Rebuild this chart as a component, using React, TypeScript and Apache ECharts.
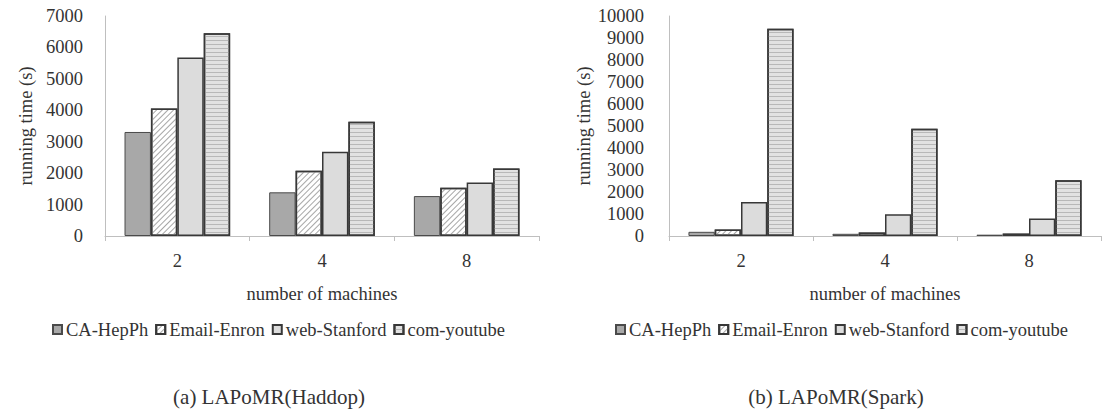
import React, { useEffect, useRef } from "react";
import * as echarts from "echarts";

const categories = ["2", "4", "8"];
const seriesNames = ["CA-HepPh", "Email-Enron", "web-Stanford", "com-youtube"];
const hadoopCA = [3310, 1390, 1270];
const hadoopEmail = [4060, 2075, 1535];
const hadoopWeb = [5680, 2680, 1705];
const hadoopYoutube = [6450, 3635, 2150];
const sparkCA = [190, 100, 60];
const sparkEmail = [290, 160, 110];
const sparkWeb = [1540, 990, 800];
const sparkYoutube = [9420, 4880, 2530];
const hadoopTicksMax = 7000;
const sparkTicksMax = 10000;
const captions = ["(a) LAPoMR(Haddop)", "(b) LAPoMR(Spark)"];
const xTitle = "number of machines";
const yTitle = "running time (s)";

const FONT = "Liberation Serif, Times New Roman, serif";
const TXT = "#333333";

function styleFor(i: number) {
  const border = "#383838";
  if (i === 0) return { color: "#a8a8a8", borderColor: "#4a4a4a", borderWidth: 1 };
  if (i === 1)
    return {
      color: "#ffffff",
      borderColor: border,
      borderWidth: 1.5,
      decal: {
        symbol: "rect",
        symbolSize: 1,
        color: "#a6a6a6",
        dashArrayX: [1, 0],
        dashArrayY: [1, 2.5],
        rotation: -Math.PI / 4,
      },
    };
  if (i === 2) return { color: "#dcdcdc", borderColor: border, borderWidth: 1.5 };
  return {
    color: "#e2e2e2",
    borderColor: border,
    borderWidth: 1.5,
    decal: {
      symbol: "rect",
      symbolSize: 1,
      color: "#b8b8b8",
      dashArrayX: [1, 0],
      dashArrayY: [1, 2.5],
      rotation: 0,
    },
  };
}

export default function App() {
  const ref = useRef<HTMLDivElement>(null);
  useEffect(() => {
    document.body.style.margin = "0";
    const chart = echarts.init(ref.current!, undefined, { renderer: "svg" });
    const hadoop = [hadoopCA, hadoopEmail, hadoopWeb, hadoopYoutube];
    const spark = [sparkCA, sparkEmail, sparkWeb, sparkYoutube];
    const axisLineStyle = { color: "#bfbfbf", width: 1 };
    const xAxisCommon = {
      type: "category",
      data: categories,
      name: xTitle,
      nameLocation: "middle",
      nameGap: 48,
      nameTextStyle: { fontFamily: FONT, fontSize: 18.5, color: TXT },
      axisLine: { show: true, lineStyle: axisLineStyle },
      axisTick: { show: true, length: 5, lineStyle: axisLineStyle },
      axisLabel: { fontFamily: FONT, fontSize: 18.5, color: TXT, margin: 15 },
      splitLine: { show: false },
    };
    const yAxisCommon = {
      type: "value",
      min: 0,
      interval: 1000,
      name: yTitle,
      nameLocation: "middle",
      nameTextStyle: { fontFamily: FONT, fontSize: 18.5, color: TXT },
      axisLine: { show: true, lineStyle: axisLineStyle },
      axisTick: { show: false },
      splitLine: { show: false },
    };
    const series: any[] = [];
    hadoop.forEach((d, i) =>
      series.push({
        type: "bar",
        name: seriesNames[i],
        data: d,
        xAxisIndex: 0,
        yAxisIndex: 0,
        barGap: "0%",
        barCategoryGap: "27%",
        itemStyle: styleFor(i),
      })
    );
    spark.forEach((d, i) =>
      series.push({
        type: "bar",
        name: seriesNames[i],
        data: d,
        xAxisIndex: 1,
        yAxisIndex: 1,
        barGap: "0%",
        barCategoryGap: "27%",
        itemStyle: styleFor(i),
      })
    );
    const legendCommon = {
      data: seriesNames,
      top: 315,
      icon: "rect",
      itemWidth: 9,
      itemHeight: 9,
      itemGap: 7,
      selectedMode: false,
      textStyle: { fontFamily: FONT, fontSize: 18.5, color: TXT, padding: [0, 0, 0, -1] },
    };
    const fmt = (v: number) => String(v);
    chart.setOption({
      animation: false,
      backgroundColor: "#ffffff",
      grid: [
        { left: 105, top: 16, width: 434, height: 220 },
        { left: 669, top: 16, width: 432, height: 220 },
      ],
      xAxis: [
        { ...xAxisCommon, gridIndex: 0 },
        { ...xAxisCommon, gridIndex: 1 },
      ],
      yAxis: [
        {
          ...yAxisCommon,
          gridIndex: 0,
          max: hadoopTicksMax,
          nameGap: 70,
          axisLabel: { fontFamily: FONT, fontSize: 18.5, color: TXT, margin: 22, formatter: fmt },
        },
        {
          ...yAxisCommon,
          gridIndex: 1,
          max: sparkTicksMax,
          nameGap: 74,
          axisLabel: { fontFamily: FONT, fontSize: 18.5, color: TXT, margin: 25, formatter: fmt },
        },
      ],
      legend: [
        { ...legendCommon, left: 47 },
        { ...legendCommon, left: 610 },
      ],
      graphic: [
        {
          type: "text",
          x: 269,
          y: 397,
          style: {
            text: captions[0],
            font: `21px ${FONT}`,
            fill: TXT,
            align: "center",
            verticalAlign: "middle",
          },
        },
        {
          type: "text",
          x: 836,
          y: 397,
          style: {
            text: captions[1],
            font: `21px ${FONT}`,
            fill: TXT,
            align: "center",
            verticalAlign: "middle",
          },
        },
      ],
      series,
    });
    return () => chart.dispose();
  }, []);
  return <div ref={ref} style={{ width: 1113, height: 409 }} />;
}
